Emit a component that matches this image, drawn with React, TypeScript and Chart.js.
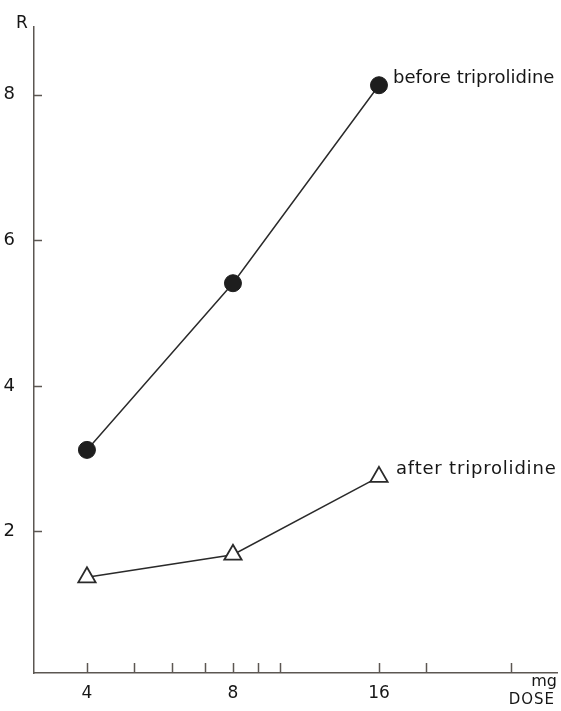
import React, { useEffect, useRef } from 'react';
import { Chart, registerables } from 'chart.js';

Chart.register(...registerables);

const doses = [4, 8, 16];
const beforeValues = [3.12, 5.41, 8.13];
const afterValues = [1.37, 1.68, 2.75];
const seriesLabels = ['before triprolidine', 'after triprolidine'];
const xTickValues = [4, 5, 6, 7, 8, 9, 10, 16, 20, 30];
const xLabelValues = [4, 8, 16];
const yTickValues = [2, 4, 6, 8];
const yAxisLabel = 'R';
const xUnitLabel = 'mg';
const xAxisTitle = 'DOSE';

const INK = '#2a2a2a';
const TEXT = '#161616';
const AXIS = '#5c5752';
const FONT = "'DejaVu Sans', sans-serif";

const annotate = {
  id: 'annotate',
  afterDraw(chart: any) {
    const { ctx, chartArea, scales } = chart;
    const x = scales.x;
    const y = scales.y;
    ctx.save();
    ctx.strokeStyle = AXIS;
    ctx.lineWidth = 1.5;
    xTickValues.forEach((v) => {
      const px = Math.round(x.getPixelForValue(v)) + 0.5;
      ctx.beginPath();
      ctx.moveTo(px, chartArea.bottom);
      ctx.lineTo(px, chartArea.bottom - 10);
      ctx.stroke();
    });
    yTickValues.forEach((v) => {
      const py = Math.round(y.getPixelForValue(v)) + 0.5;
      ctx.beginPath();
      ctx.moveTo(chartArea.left, py);
      ctx.lineTo(chartArea.left + 8, py);
      ctx.stroke();
    });

    ctx.fillStyle = TEXT;
    ctx.font = `17px ${FONT}`;
    ctx.textAlign = 'center';
    ctx.textBaseline = 'middle';
    ctx.fillText(yAxisLabel, chartArea.left - 12, chartArea.top - 3);

    ctx.font = `16px ${FONT}`;
    ctx.textAlign = 'right';
    ctx.fillText(xUnitLabel, chartArea.right, chartArea.bottom + 9);
    ctx.font = `15px ${FONT}`;
    ctx.letterSpacing = '1px';
    ctx.fillText(xAxisTitle, chartArea.right - 2, chartArea.bottom + 27);

    ctx.font = `18px ${FONT}`;
    ctx.textAlign = 'left';
    const offsets = [
      [14, -7],
      [17, -8],
    ];
    const spacing = ['0px', '0.8px'];
    [0, 1].forEach((i) => {
      const meta = chart.getDatasetMeta(i);
      const pt = meta.data[meta.data.length - 1];
      ctx.letterSpacing = spacing[i];
      ctx.fillText(seriesLabels[i], pt.x + offsets[i][0], pt.y + offsets[i][1]);
    });
    ctx.letterSpacing = '0px';
    ctx.restore();
  },
};

export default function App() {
  const ref = useRef<HTMLCanvasElement | null>(null);

  useEffect(() => {
    if (!ref.current) return;
    const chart = new Chart(ref.current, {
      type: 'line',
      data: {
        datasets: [
          {
            label: seriesLabels[0],
            data: doses.map((d, i) => ({ x: d, y: beforeValues[i] })),
            borderColor: INK,
            borderWidth: 1.5,
            pointStyle: 'circle',
            pointRadius: 8.5,
            pointBackgroundColor: '#1e1e1e',
            pointBorderColor: '#1e1e1e',
            pointBorderWidth: 1,
            tension: 0,
          },
          {
            label: seriesLabels[1],
            data: doses.map((d, i) => ({ x: d, y: afterValues[i] })),
            borderColor: INK,
            borderWidth: 1.5,
            pointStyle: 'triangle',
            pointRadius: 10,
            pointBackgroundColor: '#ffffff',
            pointBorderColor: INK,
            pointBorderWidth: 1.8,
            tension: 0,
          },
        ],
      },
      options: {
        responsive: false,
        animation: false,
        events: [],
        layout: { autoPadding: false, padding: { left: 0, top: 27, right: 4, bottom: 0 } },
        plugins: { legend: { display: false }, tooltip: { enabled: false } },
        scales: {
          x: {
            type: 'logarithmic',
            bounds: 'data',
            min: 3.111,
            max: 37.25,
            afterBuildTicks: (s: any) => {
              s.ticks = xTickValues.map((v) => ({ value: v }));
            },
            afterFit: (s: any) => {
              s.height = 38;
              s.paddingLeft = 0;
              s.paddingRight = 0;
            },
            grid: { display: false },
            border: { display: true, color: AXIS, width: 1.5 },
            ticks: {
              autoSkip: false,
              maxRotation: 0,
              padding: 2,
              color: TEXT,
              font: { family: FONT, size: 17 },
              callback: (v: any) => (xLabelValues.includes(Number(v)) ? String(v) : ''),
            },
          },
          y: {
            type: 'linear',
            min: 0.055,
            max: 8.93,
            afterBuildTicks: (s: any) => {
              s.ticks = yTickValues.map((v) => ({ value: v }));
            },
            afterFit: (s: any) => {
              s.width = 34;
              s.paddingTop = 0;
              s.paddingBottom = 0;
            },
            grid: { display: false },
            border: { display: true, color: AXIS, width: 1.5 },
            ticks: {
              padding: 11,
              color: TEXT,
              font: { family: FONT, size: 18 },
              callback: (v: any) => String(v),
            },
          },
        },
      },
      plugins: [annotate],
    });
    return () => chart.destroy();
  }, []);

  return (
    <div style={{ position: 'absolute', left: 0, top: 0, width: 561, height: 711, background: '#fff' }}>
      <canvas ref={ref} width={561} height={711} />
    </div>
  );
}
